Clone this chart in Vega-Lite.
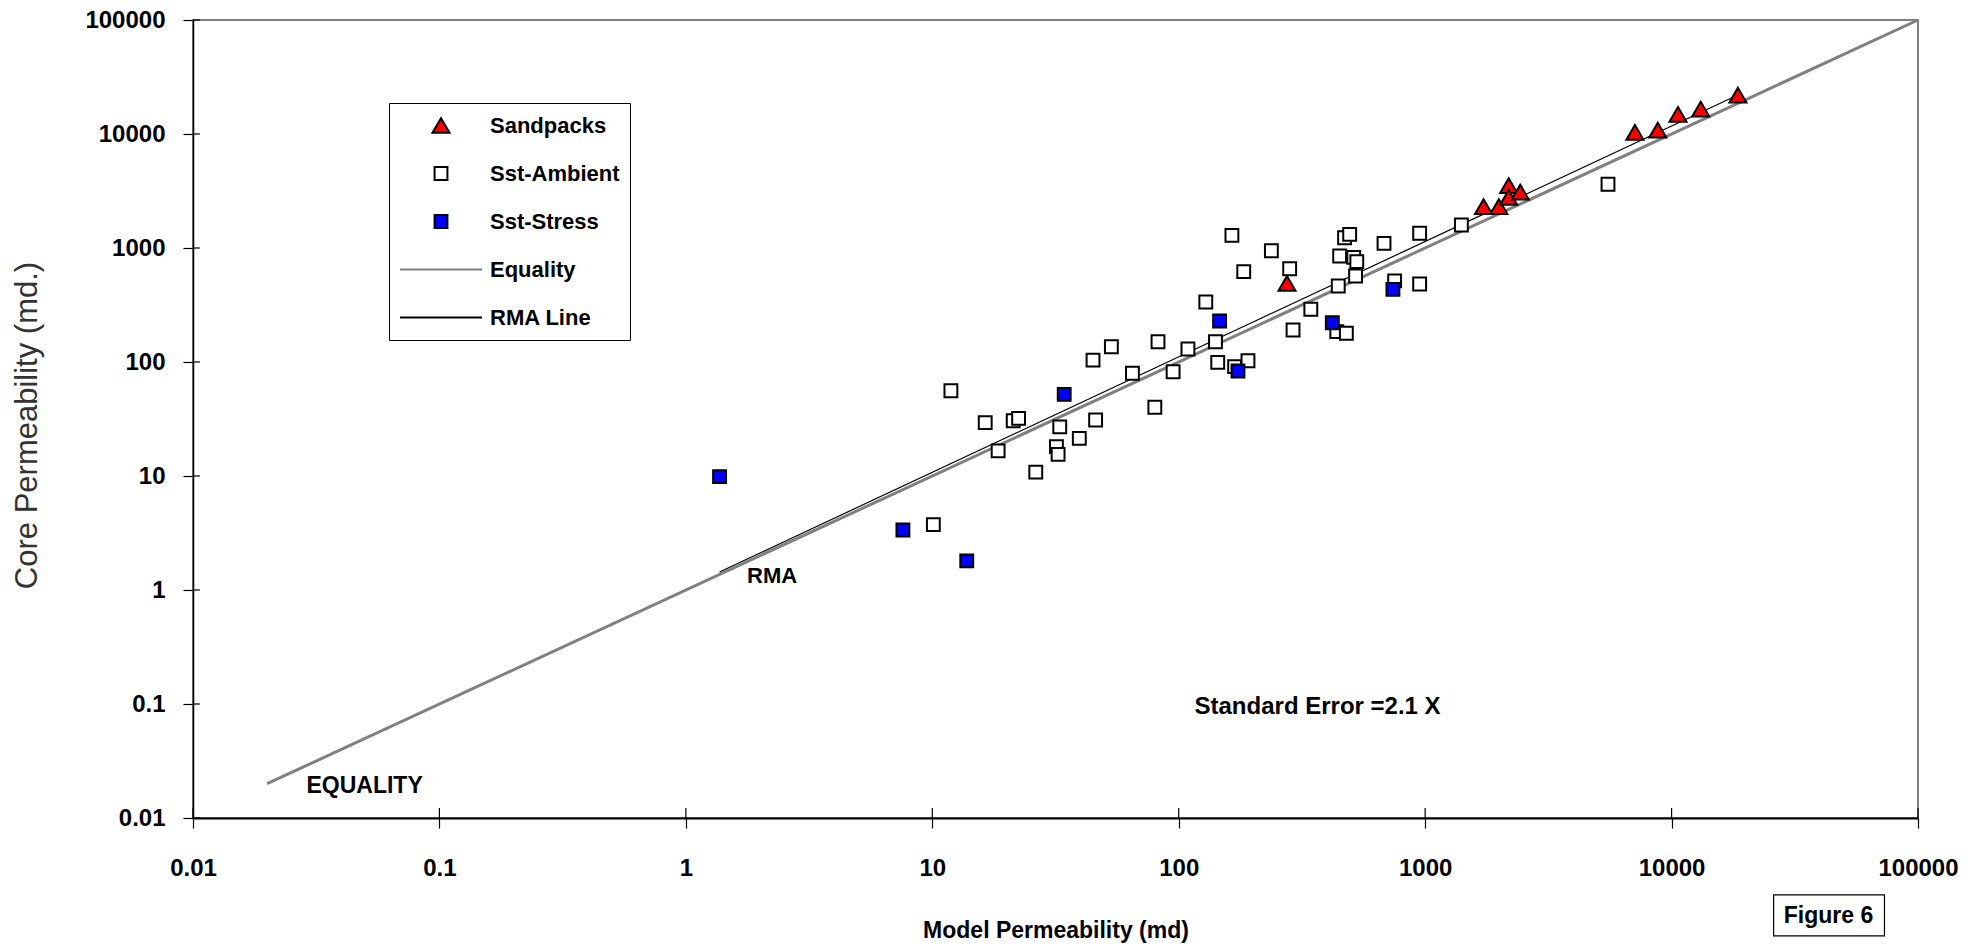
{
  "$schema": "https://vega.github.io/schema/vega-lite/v6.json",
  "width": 1725,
  "height": 798,
  "autosize": {"type": "none"},
  "padding": {"left": 193, "top": 20, "right": 58, "bottom": 129},
  "background": "white",
  "config": {
    "view": {"stroke": "#555555", "strokeWidth": 1.5},
    "font": "Liberation Sans",
    "axis": {"grid": false}
  },
  "datasets": {
    "points": [
      {"series": "Sst-Ambient", "model": 10.1, "core": 3.75},
      {"series": "Sst-Ambient", "model": 11.9, "core": 56},
      {"series": "Sst-Ambient", "model": 16.4, "core": 29.4},
      {"series": "Sst-Ambient", "model": 21.3, "core": 30.5},
      {"series": "Sst-Ambient", "model": 22.4, "core": 32},
      {"series": "Sst-Ambient", "model": 18.5, "core": 16.6},
      {"series": "Sst-Ambient", "model": 32.9, "core": 27},
      {"series": "Sst-Ambient", "model": 31.9, "core": 18.1},
      {"series": "Sst-Ambient", "model": 32.4, "core": 15.5},
      {"series": "Sst-Ambient", "model": 39.5, "core": 21.4},
      {"series": "Sst-Ambient", "model": 26.3, "core": 10.8},
      {"series": "Sst-Ambient", "model": 44.9, "core": 104},
      {"series": "Sst-Ambient", "model": 46, "core": 31},
      {"series": "Sst-Ambient", "model": 53.3, "core": 136},
      {"series": "Sst-Ambient", "model": 64.9, "core": 79.6},
      {"series": "Sst-Ambient", "model": 80, "core": 40.1},
      {"series": "Sst-Ambient", "model": 82.4, "core": 150.6},
      {"series": "Sst-Ambient", "model": 94.9, "core": 82.2},
      {"series": "Sst-Ambient", "model": 109, "core": 130},
      {"series": "Sst-Ambient", "model": 128.8, "core": 336},
      {"series": "Sst-Ambient", "model": 141, "core": 150.6},
      {"series": "Sst-Ambient", "model": 144, "core": 99.3},
      {"series": "Sst-Ambient", "model": 168.6, "core": 91},
      {"series": "Sst-Ambient", "model": 191, "core": 102.6},
      {"series": "Sst-Ambient", "model": 164.4, "core": 1291},
      {"series": "Sst-Ambient", "model": 183.6, "core": 620},
      {"series": "Sst-Ambient", "model": 237.7, "core": 946},
      {"series": "Sst-Ambient", "model": 282, "core": 658},
      {"series": "Sst-Ambient", "model": 291, "core": 191},
      {"series": "Sst-Ambient", "model": 343.6, "core": 290},
      {"series": "Sst-Ambient", "model": 438, "core": 184.5},
      {"series": "Sst-Ambient", "model": 479, "core": 178.6},
      {"series": "Sst-Ambient", "model": 444, "core": 464},
      {"series": "Sst-Ambient", "model": 450, "core": 851},
      {"series": "Sst-Ambient", "model": 471, "core": 1230},
      {"series": "Sst-Ambient", "model": 494, "core": 1318},
      {"series": "Sst-Ambient", "model": 513, "core": 828},
      {"series": "Sst-Ambient", "model": 528, "core": 760},
      {"series": "Sst-Ambient", "model": 522, "core": 568},
      {"series": "Sst-Ambient", "model": 681, "core": 1099},
      {"series": "Sst-Ambient", "model": 752, "core": 514},
      {"series": "Sst-Ambient", "model": 950, "core": 1346},
      {"series": "Sst-Ambient", "model": 950, "core": 483},
      {"series": "Sst-Ambient", "model": 1403, "core": 1592},
      {"series": "Sst-Ambient", "model": 5521, "core": 3625},
      {"series": "Sst-Stress", "model": 1.37, "core": 9.87},
      {"series": "Sst-Stress", "model": 7.6, "core": 3.36},
      {"series": "Sst-Stress", "model": 13.8, "core": 1.8},
      {"series": "Sst-Stress", "model": 34.3, "core": 52},
      {"series": "Sst-Stress", "model": 146.5, "core": 229},
      {"series": "Sst-Stress", "model": 174, "core": 83.4},
      {"series": "Sst-Stress", "model": 420, "core": 221},
      {"series": "Sst-Stress", "model": 740, "core": 434},
      {"series": "Sandpacks", "model": 275, "core": 490},
      {"series": "Sandpacks", "model": 1726, "core": 2302},
      {"series": "Sandpacks", "model": 1991, "core": 2302},
      {"series": "Sandpacks", "model": 2183, "core": 3524},
      {"series": "Sandpacks", "model": 2183, "core": 2787},
      {"series": "Sandpacks", "model": 2432, "core": 3085},
      {"series": "Sandpacks", "model": 7100, "core": 10350},
      {"series": "Sandpacks", "model": 8790, "core": 10840},
      {"series": "Sandpacks", "model": 10620, "core": 14900},
      {"series": "Sandpacks", "model": 13130, "core": 16560},
      {"series": "Sandpacks", "model": 18580, "core": 21980}
    ],
    "equality": [
      {"model": 0.02, "core": 0.02},
      {"model": 100000, "core": 100000}
    ],
    "rma": [
      {"model": 1.37, "core": 1.44},
      {"model": 18580, "core": 21980}
    ],
    "decades": [
      {"v": 0.01}, {"v": 0.1}, {"v": 1}, {"v": 10}, {"v": 100}, {"v": 1000}, {"v": 10000}, {"v": 100000}
    ]
  },
  "layer": [
    {
      "data": {"name": "equality"},
      "mark": {"type": "line", "color": "#808080", "strokeWidth": 3},
      "encoding": {
        "x": {
          "field": "model", "type": "quantitative",
          "scale": {"type": "log", "domain": [0.01, 100000], "nice": false},
          "axis": {
            "values": [0.01, 0.1, 1, 10, 100, 1000, 10000, 100000],
            "labelExpr": "'' + datum.value",
            "title": "Model Permeability (md)",
            "domainColor": "black", "domainWidth": 2,
            "tickColor": "black", "tickSize": 10, "tickWidth": 1.2,
            "labelFont": "Liberation Sans", "labelFontSize": 24, "labelFontWeight": "bold", "labelColor": "black",
            "labelPadding": 28, "labelFlush": false, "labelOverlap": false,
            "titleFont": "Liberation Sans", "titleFontSize": 23, "titleFontWeight": "bold", "titleColor": "black",
            "titleBaseline": "alphabetic", "titleY": 119
          }
        },
        "y": {
          "field": "core", "type": "quantitative",
          "scale": {"type": "log", "domain": [0.01, 100000], "nice": false},
          "axis": {
            "values": [0.01, 0.1, 1, 10, 100, 1000, 10000, 100000],
            "labelExpr": "'' + datum.value",
            "title": "Core Permeability (md.)",
            "domainColor": "black", "domainWidth": 1.5,
            "tickColor": "black", "tickSize": 10, "tickWidth": 1.2,
            "labelFont": "Liberation Sans", "labelFontSize": 24, "labelFontWeight": "bold", "labelColor": "black",
            "labelPadding": 18, "labelFlush": false, "labelOverlap": false,
            "titleFont": "Liberation Sans", "titleFontSize": 31, "titleFontWeight": "normal", "titleColor": "#333333",
            "titleAngle": -90, "titleBaseline": "middle", "titleAlign": "center", "titleX": -166, "titleY": 405
          }
        }
      }
    },
    {
      "data": {"name": "decades"},
      "mark": {"type": "rule", "color": "black", "strokeWidth": 1.2},
      "encoding": {
        "x": {"field": "v", "type": "quantitative"},
        "y": {"datum": 0.01, "type": "quantitative"},
        "y2": {"datum": 0.01224}
      }
    },
    {
      "data": {"name": "decades"},
      "mark": {"type": "rule", "color": "black", "strokeWidth": 1.2},
      "encoding": {
        "y": {"field": "v", "type": "quantitative"},
        "x": {"datum": 0.01, "type": "quantitative"},
        "x2": {"datum": 0.01067}
      }
    },
    {
      "data": {"name": "rma"},
      "mark": {"type": "line", "color": "black", "strokeWidth": 1.2},
      "encoding": {
        "x": {"field": "model", "type": "quantitative"},
        "y": {"field": "core", "type": "quantitative"}
      }
    },
    {
      "data": {"name": "points"},
      "mark": {"type": "point", "filled": true, "opacity": 1, "strokeWidth": 2},
      "encoding": {
        "x": {"field": "model", "type": "quantitative"},
        "y": {"field": "core", "type": "quantitative"},
        "shape": {
          "field": "series", "type": "nominal",
          "scale": {"domain": ["Sandpacks", "Sst-Ambient", "Sst-Stress", "Equality", "RMA Line"],
                    "range": ["triangle-up", "square", "square", "stroke", "stroke"]},
          "legend": {
            "orient": "none", "legendX": 196, "legendY": 83, "title": null,
            "strokeColor": "black", "fillColor": "white", "padding": 10,
            "rowPadding": 23, "labelOffset": 7, "clipHeight": 25,
            "labelFont": "Liberation Sans", "labelFontSize": 22, "labelFontWeight": "bold", "labelColor": "black",
            "labelLimit": 0, "symbolOpacity": 1, "symbolStrokeWidth": 2,
            "encode": {
              "symbols": {
                "update": {
                  "strokeWidth": {"signal": "datum.value === 'Equality' ? 3.5 : datum.value === 'RMA Line' ? 1.5 : 2"},
                  "opacity": {"value": 1}
                }
              }
            }
          }
        },
        "fill": {
          "field": "series", "type": "nominal",
          "scale": {"domain": ["Sandpacks", "Sst-Ambient", "Sst-Stress", "Equality", "RMA Line"],
                    "range": ["#ff0000", "#ffffff", "#0000ff", "transparent", "transparent"]}
        },
        "stroke": {
          "field": "series", "type": "nominal",
          "scale": {"domain": ["Sandpacks", "Sst-Ambient", "Sst-Stress", "Equality", "RMA Line"],
                    "range": ["#000000", "#000000", "#000000", "#808080", "#000000"]}
        },
        "size": {
          "field": "series", "type": "nominal",
          "scale": {"type": "ordinal", "domain": ["Sandpacks", "Sst-Ambient", "Sst-Stress", "Equality", "RMA Line"],
                    "range": [290, 165, 165, 6724, 6724]}
        }
      }
    },
    {
      "data": {"values": [{"label": "RMA"}]},
      "mark": {"type": "text", "align": "center", "baseline": "alphabetic", "font": "Liberation Sans", "fontSize": 22, "fontWeight": "bold", "color": "black"},
      "encoding": {
        "x": {"datum": 2.24, "type": "quantitative"},
        "y": {"datum": 1.15, "type": "quantitative"},
        "text": {"field": "label"}
      }
    },
    {
      "data": {"values": [{"label": "EQUALITY"}]},
      "mark": {"type": "text", "align": "center", "baseline": "alphabetic", "font": "Liberation Sans", "fontSize": 23, "fontWeight": "bold", "color": "black"},
      "encoding": {
        "x": {"datum": 0.0497, "type": "quantitative"},
        "y": {"datum": 0.01655, "type": "quantitative"},
        "text": {"field": "label"}
      }
    },
    {
      "data": {"values": [{"label": "Standard Error =2.1 X"}]},
      "mark": {"type": "text", "align": "center", "baseline": "alphabetic", "font": "Liberation Sans", "fontSize": 24, "fontWeight": "bold", "color": "black"},
      "encoding": {
        "x": {"datum": 366, "type": "quantitative"},
        "y": {"datum": 0.0817, "type": "quantitative"},
        "text": {"field": "label"}
      }
    },
    {
      "data": {"values": [{"label": "Figure 6"}]},
      "mark": {"type": "rect", "fill": "white", "stroke": "black", "strokeWidth": 1.2},
      "encoding": {
        "x": {"datum": 25950, "type": "quantitative"},
        "x2": {"datum": 73100},
        "y": {"datum": 0.002115, "type": "quantitative"},
        "y2": {"datum": 0.000923}
      }
    },
    {
      "data": {"values": [{"label": "Figure 6"}]},
      "mark": {"type": "text", "align": "center", "baseline": "middle", "font": "Liberation Sans", "fontSize": 23, "fontWeight": "bold", "color": "black"},
      "encoding": {
        "x": {"datum": 43350, "type": "quantitative"},
        "y": {"datum": 0.00138, "type": "quantitative"},
        "text": {"field": "label"}
      }
    }
  ]
}
